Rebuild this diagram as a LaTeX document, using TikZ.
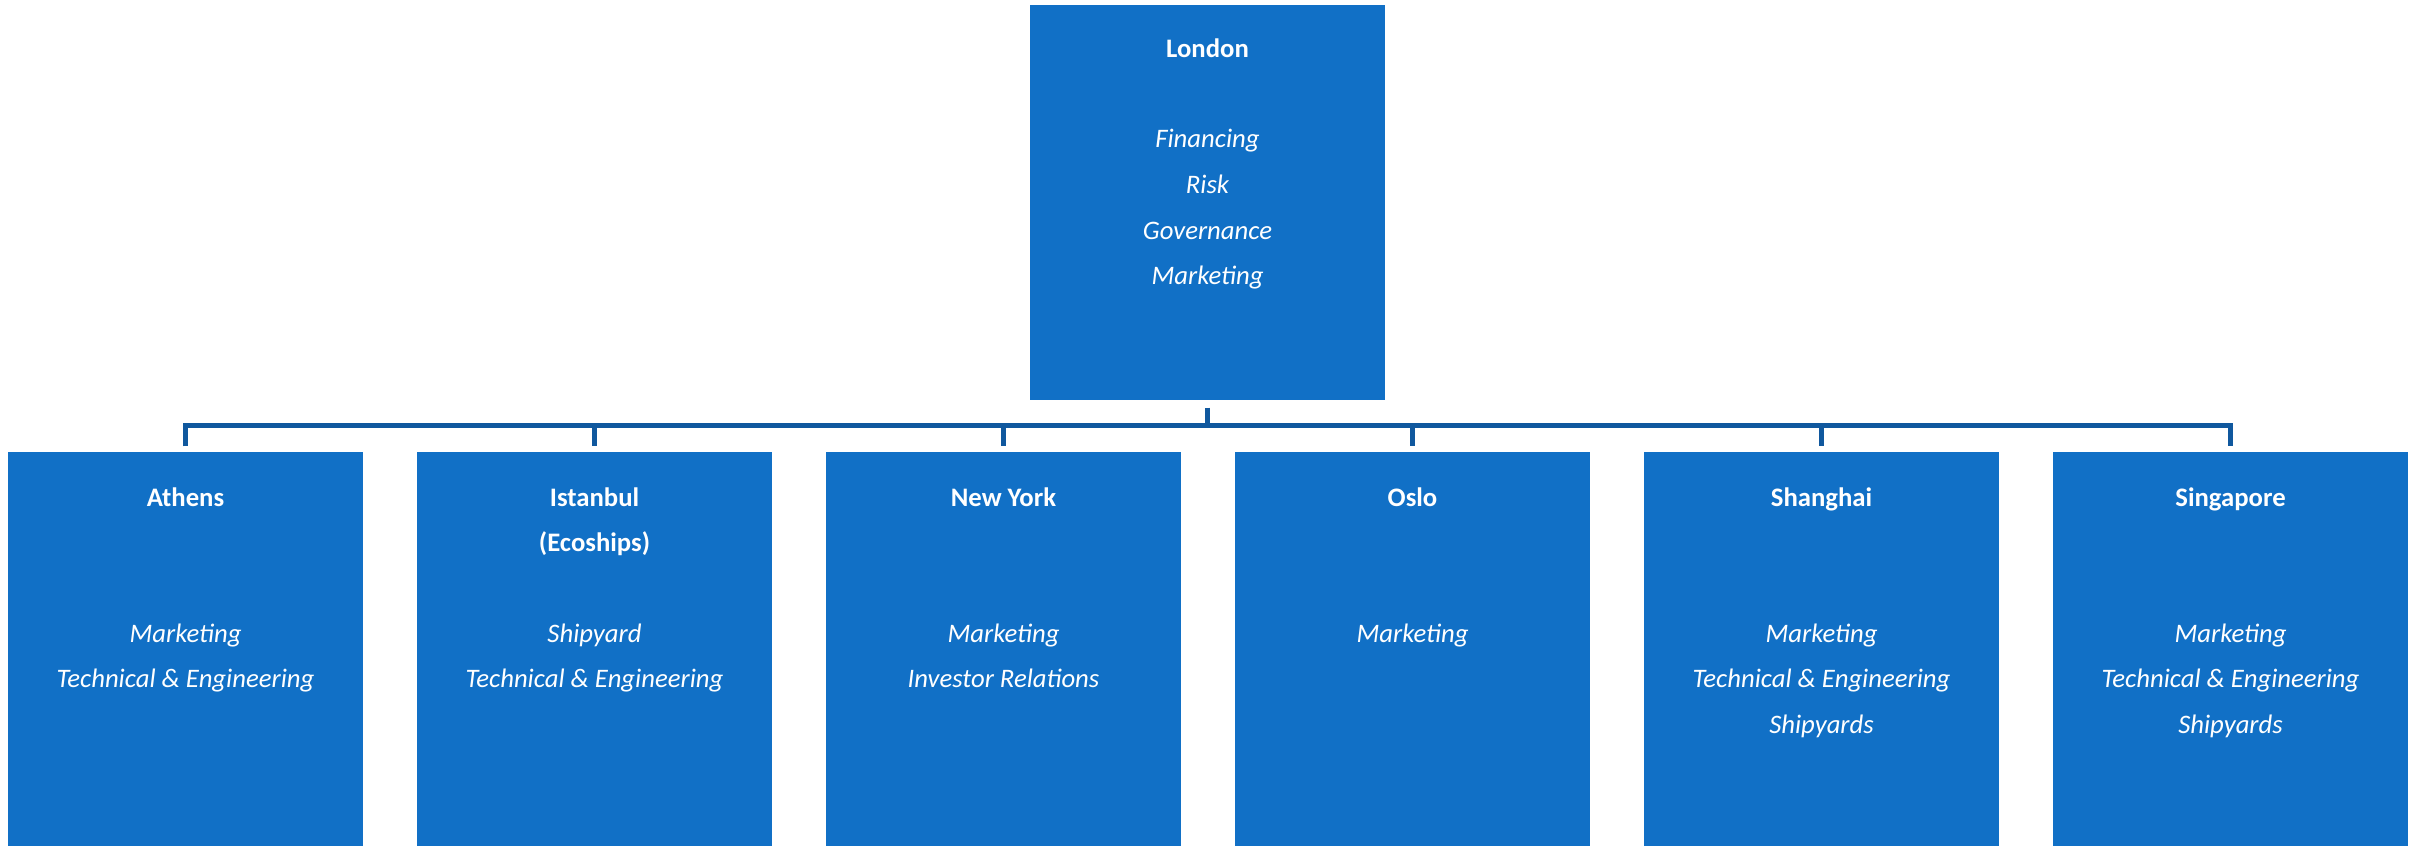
\documentclass[tikz,border=0pt]{standalone}
\usepackage{fontspec}
\setmainfont{Carlito}
\usepackage{xcolor}
\usepackage{tikz}
\usetikzlibrary{positioning}

\definecolor{boxblue}{RGB}{17,112,198}
\definecolor{lineblue}{RGB}{16,88,158}

\begin{document}
\begin{tikzpicture}[
  office/.style={rectangle, fill=boxblue, draw=none, minimum width=3.55cm, minimum height=3.94cm, inner sep=0pt},
  head/.style={anchor=base, text=white, inner sep=0pt, font=\fontsize{7.6}{9}\selectfont\bfseries},
  duty/.style={anchor=base, text=white, inner sep=0pt, font=\fontsize{7.6}{9}\selectfont\itshape},
  link/.style={draw=lineblue, line width=0.05cm}
]
\useasboundingbox (0,0) rectangle (24.2,-8.46);
\node [office, minimum height=3.95cm] (london) at (12.075, -2.025) {};
\node [office] (athens) at (1.855, -6.49) {};
\node [office] (istanbul) at (5.945, -6.49) {};
\node [office] (newyork) at (10.035, -6.49) {};
\node [office] (oslo) at (14.125, -6.49) {};
\node [office] (shanghai) at (18.215, -6.49) {};
\node [office] (singapore) at (22.305, -6.49) {};
\coordinate (bus) at (12.075, -4.255);
\node [head] (london-h) at (12.075, -0.58) {London};
\node [duty] (london-1) at (12.075, -1.48) {Financing};
\node [duty] (london-2) at (12.075, -1.935) {Risk};
\node [duty] (london-3) at (12.075, -2.39) {Governance};
\node [duty] (london-4) at (12.075, -2.845) {Marketing};
\node [head] (athens-h) at (1.855, -5.06) {Athens};
\node [duty] (athens-1) at (1.855, -6.42) {Marketing};
\node [duty] (athens-2) at (1.855, -6.875) {Technical \& Engineering};
\node [head] (istanbul-h) at (5.945, -5.06) {Istanbul};
\node [head] (istanbul-h2) at (5.945, -5.515) {(Ecoships)};
\node [duty] (istanbul-1) at (5.945, -6.42) {Shipyard};
\node [duty] (istanbul-2) at (5.945, -6.875) {Technical \& Engineering};
\node [head] (newyork-h) at (10.035, -5.06) {New York};
\node [duty] (newyork-1) at (10.035, -6.42) {Marketing};
\node [duty] (newyork-2) at (10.035, -6.875) {Investor Relations};
\node [head] (oslo-h) at (14.125, -5.06) {Oslo};
\node [duty] (oslo-1) at (14.125, -6.42) {Marketing};
\node [head] (shanghai-h) at (18.215, -5.06) {Shanghai};
\node [duty] (shanghai-1) at (18.215, -6.42) {Marketing};
\node [duty] (shanghai-2) at (18.215, -6.875) {Technical \& Engineering};
\node [duty] (shanghai-3) at (18.215, -7.33) {Shipyards};
\node [head] (singapore-h) at (22.305, -5.06) {Singapore};
\node [duty] (singapore-1) at (22.305, -6.42) {Marketing};
\node [duty] (singapore-2) at (22.305, -6.875) {Technical \& Engineering};
\node [duty] (singapore-3) at (22.305, -7.33) {Shipyards};
\draw [link, shorten <=0.07cm] (london.south) -- (bus);
\draw [link, shorten <=0.05cm, shorten >=0.05cm] (athens.north) |- (bus) -| (singapore.north);
\foreach \b in {istanbul, newyork, oslo, shanghai}
  \draw [link, shorten >=0.05cm] (\b.north |- bus) -- (\b.north);
\end{tikzpicture}
\end{document}
